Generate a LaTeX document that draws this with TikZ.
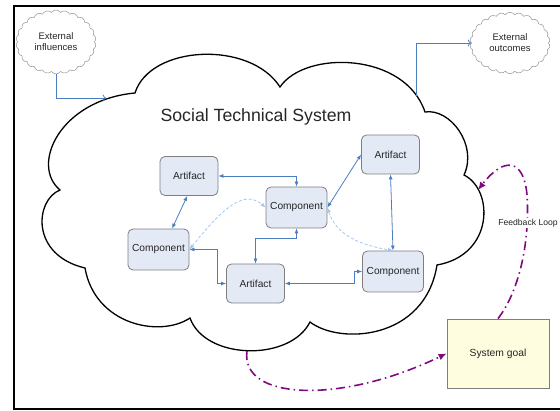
\documentclass[tikz,border=0pt]{standalone}
\usepackage{fontspec}
\setmainfont{Liberation Sans}
\usetikzlibrary{arrows.meta,shapes.symbols}
\begin{document}
\begin{tikzpicture}[x=1pt, y=-1pt,
  box/.style={draw=boxline, fill=boxfill, rounded corners=5pt, line width=0.8pt, inner sep=0pt, text=txt, font=\fontsize{10.2}{12}\selectfont},
  artbox/.style={box, minimum width=58pt, minimum height=39pt},
  compbox/.style={box, minimum width=61pt, minimum height=41pt},
  puff/.style={cloud, cloud puffs=26, cloud puff arc=110, draw=gray!85, line width=0.5pt, minimum width=80pt, minimum height=54pt, inner sep=0pt, align=center, text=txt, font=\fontsize{9.5}{11}\selectfont},
  link/.style={draw=linkcol, line width=0.8pt, {Latex[length=5pt,width=4pt]}-{Latex[length=5pt,width=4pt]}},
  ghost/.style={draw=ghostcol, line width=0.8pt, dash pattern=on 3pt off 2pt, {Latex[length=5pt,width=4pt]}-{Latex[length=5pt,width=4pt]}},
  feed/.style={draw=fbcol, line width=1.6pt, dash pattern=on 9pt off 4pt on 1.5pt off 4pt, -{Latex[length=8pt,width=7pt]}}
]
\definecolor{boxline}{HTML}{7F7F7F}
\definecolor{boxfill}{HTML}{E3E9F5}
\definecolor{txt}{HTML}{262626}
\definecolor{linkcol}{HTML}{4A7EC0}
\definecolor{ghostcol}{HTML}{A4C6EC}
\definecolor{fbcol}{HTML}{7F0A80}
\useasboundingbox (0,0) rectangle (560,411);
\draw[line width=2.2pt] (560,6) -- (14,6) -- (14,409) -- (560,409);
% the big cloud
\draw[line width=1.3pt] (135,93) .. controls (150,45) and (250,40) .. (280,87)
  .. controls (305,50) and (405,52) .. (425,112)
  .. controls (450,108) and (478,145) .. (464,175)
  .. controls (494,190) and (494,255) .. (437,265)
  .. controls (425,340) and (340,345) .. (310,322)
  .. controls (290,362) and (205,360) .. (190,318)
  .. controls (160,338) and (95,325) .. (85,268)
  .. controls (30,255) and (35,200) .. (60,190)
  .. controls (30,165) and (60,100) .. cycle;
\coordinate (inPt) at (106,98);
\coordinate (outPt) at (416,96);
\coordinate (fbIn) at (478,190);
\coordinate (fbOut) at (247,351);
\node[text=txt, font=\fontsize{17.7}{20}\selectfont] (title) at (256,117) {Social Technical System};
% outside
\node[puff] (infl) at (56,42) {External\\influences};
\node[puff] (outc) at (510,43) {External\\outcomes};
\node[draw=boxline, fill=yellow!12, line width=0.8pt, minimum width=102pt, minimum height=69pt, text=txt, font=\fontsize{10.3}{12}\selectfont] (goal) at (498,353.5) {System goal};
\draw[link, <-] (inPt) -| (infl.south);
\draw[link, ->] (outPt) |- (outc.west);
% parts
\node[artbox] (artA) at (189,176) {Artifact};
\node[compbox] (compC) at (296.5,207.5) {Component};
\node[artbox] (artR) at (390.5,154.5) {Artifact};
\node[compbox] (compL) at (158.5,249.5) {Component};
\node[artbox] (artB) at (255.5,283.5) {Artifact};
\node[compbox] (compR) at (393,271.5) {Component};
\draw[link] (artA.east) -| (compC.north);
\draw[link] (artA.265) -- (compL.57);
\draw[link] (compC.south) -- ++(0,10) -| (artB.north);
\draw[link] (compL.east) -- ++(28,0) |- (artB.west);
\draw[link] (artB.east) -- ++(69,0) |- (compR.west);
\draw[link] (compC.east) -- (artR.west);
\draw[link] (artR.south) -- (compR.north);
\draw[ghost] (compL.east) .. controls (225,205) and (245,190) .. (compC.west);
\draw[ghost] (compC.east) .. controls (336,235) and (360,245) .. (compR.north);
% feedback
\draw[feed] (goal.north) .. controls (520,290) and (530,240) .. (527,195)
  .. controls (524,160) and (505,155) .. (fbIn);
\draw[feed] (fbOut) .. controls (240,400) and (340,405) .. (goal.west);
\node[fill=white, inner sep=1pt, text=txt, font=\fontsize{8.6}{10}\selectfont] (fbLabel) at (528,223) {Feedback Loop};
\end{tikzpicture}
\end{document}
